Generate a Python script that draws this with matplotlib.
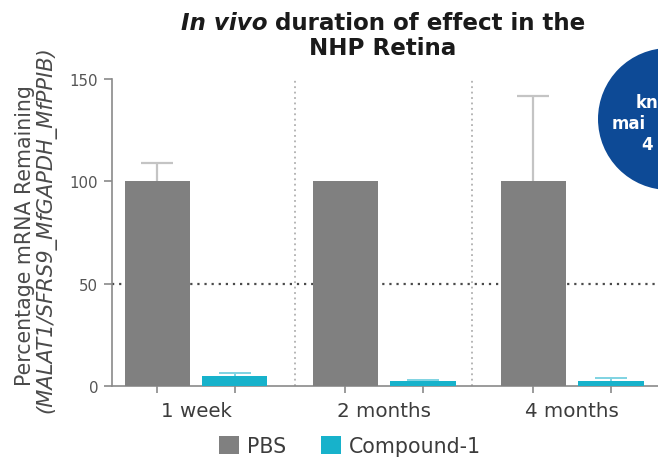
import numpy as np
import matplotlib
matplotlib.use("Agg")
import matplotlib.pyplot as plt
from matplotlib.patches import Ellipse, Patch

# Data
timepoints = ["1 week", "2 months", "4 months"]
pbs_values = [100.0, 100.0, 100.0]
pbs_err = [8.8, 0.0, 41.8]
compound_values = [5.0, 2.3, 2.4]
compound_err = [1.3, 0.4, 1.4]
series_names = ["PBS", "Compound-1"]
yticks = [0, 50, 100, 150]

PBS_COLOR = "#808080"
CMP_COLOR = "#17b2cb"
PBS_ERR_COLOR = "#c4c4c4"
CMP_ERR_COLOR = "#7fd3e2"
TEXT_GRAY = "#555555"

W, H = 658, 460
plt.rcParams["font.family"] = ["DejaVu Sans"]
fig = plt.figure(figsize=(W / 100, H / 100), dpi=100)

# axes: left spine at x=112 px, y=0 at 387 px, y=150 at 80 px
ax = fig.add_axes([112 / W, (H - 387) / H, (W - 112) / W, (387 - 80) / H])

groups = np.arange(len(timepoints))
offset = 0.207
width = 0.346
cap_half = 0.085
pbs_x = groups - offset
cmp_x = groups + offset

ax.set_xlim(-0.447, 2.457)
ax.set_ylim(0, 150)

# reference lines
ax.axhline(50, color="#4a4a4a", lw=1.6, ls=(0, (1, 2.2)), zorder=1)
for sx in (0.527, 1.468):
    ax.plot([sx, sx], [0, 150], color="#b0b0b0", lw=1.3, ls=(0, (1, 2.0)),
            zorder=1, clip_on=False)

ax.bar(pbs_x, pbs_values, width, color=PBS_COLOR, zorder=3)
ax.bar(cmp_x, compound_values, width, color=CMP_COLOR, zorder=3)


def upper_errors(xs, vals, errs, color, lw, z):
    xs, vals, errs = np.asarray(xs), np.asarray(vals), np.asarray(errs)
    m = errs > 0
    tops = vals[m] + errs[m]
    ax.vlines(xs[m], vals[m], tops, color=color, lw=lw, zorder=z)
    ax.hlines(tops, xs[m] - cap_half, xs[m] + cap_half, color=color, lw=lw, zorder=z)


upper_errors(pbs_x, pbs_values, pbs_err, PBS_ERR_COLOR, 1.6, 2)
upper_errors(cmp_x, compound_values, compound_err, CMP_ERR_COLOR, 1.4, 4)

# spines / ticks
for s in ("top", "right"):
    ax.spines[s].set_visible(False)
for s in ("left", "bottom"):
    ax.spines[s].set_color("#8a8a8a")
    ax.spines[s].set_linewidth(1.2)

ax.set_yticks(yticks)
ax.set_yticklabels([str(t) for t in yticks])
ax.tick_params(axis="y", length=6, width=1.2, color="#8a8a8a",
               labelsize=10.8, labelcolor=TEXT_GRAY, pad=4)

ax.set_xticks(np.concatenate([pbs_x, cmp_x]), minor=True)
ax.set_xticks(groups)
ax.set_xticklabels(timepoints)
ax.tick_params(axis="x", which="major", length=0, labelsize=14.3,
               labelcolor="#3c3c3c", pad=11)
ax.tick_params(axis="x", which="minor", length=5, width=1.2, color="#8a8a8a")

# y axis label (two lines)
fig.text(25 / W, 1 - 236 / H, "Percentage mRNA Remaining", rotation=90, ha="center",
         va="center", fontsize=14.8, color="#4a4a4a")
fig.text(46 / W, 1 - 230 / H, "(MALAT1/SFRS9_MfGAPDH_MfPPIB)", rotation=90,
         ha="center", va="center", fontsize=15.1, color="#4a4a4a", style="italic")

# title with mixed italic run
fig.canvas.draw()
renderer = fig.canvas.get_renderer()
title_cx = 383
title_fs = 16.6
line1 = [("In vivo", "italic"), (" duration of effect in the", "normal")]
y1 = 1 - 23 / H
pieces = []
for txt, st in line1:
    t = fig.text(0, y1, txt, fontsize=title_fs, fontweight="bold", style=st,
                 ha="left", va="center", color="#1a1a1a")
    pieces.append(t)
widths = [p.get_window_extent(renderer).width for p in pieces]
total = sum(widths)
x = title_cx - total / 2
for p, w in zip(pieces, widths):
    p.set_x(x / W)
    x += w
fig.text(title_cx / W, 1 - 49 / H, "NHP Retina", fontsize=title_fs, fontweight="bold",
         ha="center", va="center", color="#1a1a1a")

# legend
handles = [Patch(facecolor=PBS_COLOR, edgecolor="none"),
           Patch(facecolor=CMP_COLOR, edgecolor="none")]
fig.legend(handles, series_names, loc="center", bbox_to_anchor=(350 / W, 1 - 447 / H),
           ncol=2, frameon=False, fontsize=14.8, handlelength=0.95, handleheight=0.95,
           handletextpad=0.4, columnspacing=1.7, labelcolor="#3c3c3c",
           borderpad=0.2)

# side badge
r = 71
badge = Ellipse((669 / W, 1 - 120 / H), 2 * r / W, 2 * r / H,
                transform=fig.transFigure, facecolor="#0d4a96", edgecolor="none",
                zorder=5)
fig.patches.append(badge)
for txt, xx, yy in (("kn", 636, 103), ("mai", 612, 124), ("4", 641, 145)):
    fig.text(xx / W, 1 - yy / H, txt, color="white", fontsize=12,
             fontweight="bold", ha="left", va="center", zorder=6)

fig.savefig("out.png", dpi=100)
